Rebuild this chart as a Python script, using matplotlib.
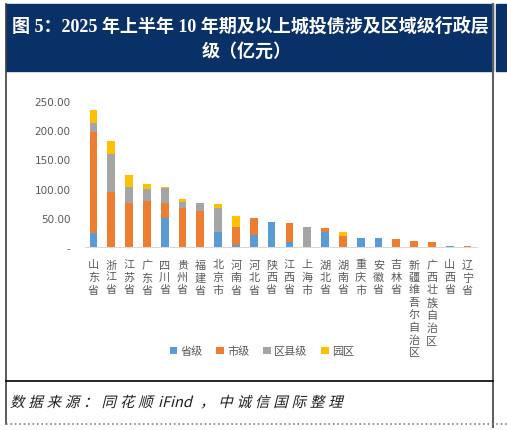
import matplotlib.pyplot as plt
from matplotlib.lines import Line2D
from matplotlib.patches import PathPatch
from matplotlib.textpath import TextPath
from matplotlib.font_manager import FontProperties
from matplotlib.transforms import Affine2D
import numpy as np

plt.rcParams['font.family'] = ['Noto Sans CJK SC', 'DejaVu Sans']

# data (亿元)
provinces = ["山东省", "浙江省", "江苏省", "广东省", "四川省", "贵州省", "福建省", "北京市",
             "河南省", "河北省", "陕西省", "江西省", "上海市", "湖北省", "湖南省", "重庆市",
             "安徽省", "吉林省", "新疆维吾尔自治区", "广西壮族自治区", "山西省", "辽宁省"]
provincial = [24, 0, 0, 0, 49, 0, 0, 26, 4, 20, 43, 9, 0, 25, 0, 15, 15, 0, 0, 0, 1.0, 0]
municipal = [173, 94, 75, 78, 27, 66, 62, 0, 31, 29, 0, 32, 0, 7, 19, 0, 0, 14, 11, 8.5, 0, 1.0]
county = [16, 66, 28, 21, 25, 11, 13, 40, 0, 0, 0, 0, 35, 0, 0, 0, 0, 0, 0, 0, 0, 0]
park = [22, 22, 20, 9, 2, 6, 0, 7, 18, 0, 0, 0, 0, 0, 6, 0, 0, 0, 0, 0, 0, 0]
series_names = ["省级", "市级", "区县级", "园区"]
colors = ["#5B9BD5", "#ED7D31", "#A5A5A5", "#FFC000"]
yticks = [0, 50, 100, 150, 200, 250]
ytick_labels = ["-", "50.00", "100.00", "150.00", "200.00", "250.00"]

W, H = 507, 431
fig = plt.figure(figsize=(W / 100, H / 100), dpi=100)


def fx(px):
    return px / W


def fy(py):
    return 1 - py / H


# header band
fig.patches.append(plt.Rectangle((fx(6), fy(72)), fx(487), 67 / H, transform=fig.transFigure,
                                 color="#0a3068", zorder=0))
fig.patches.append(plt.Rectangle((fx(496), fy(72)), fx(11), 67 / H, transform=fig.transFigure,
                                 color="#0a3068", zorder=0))
fig.text(fx(250), fy(27), "图 5：2025 年上半年 10 年期及以上城投债涉及区域级行政层",
         family=['Liberation Serif', 'Noto Sans CJK SC'], weight='bold', color='white',
         fontsize=13, ha='center', va='center')
fig.text(fx(247), fy(52), "级（亿元）", family=['Liberation Serif', 'Noto Sans CJK SC'],
         weight='bold', color='white', fontsize=13, ha='center', va='center')

# frame lines
fig.add_artist(Line2D([fx(6), fx(6)], [fy(5), fy(425)], color='#404040', lw=1.2))
fig.add_artist(Line2D([fx(493), fx(493)], [fy(5), fy(428)], color='#606060', lw=1.5))
fig.add_artist(Line2D([fx(6), fx(493)], [fy(382), fy(382)], color='black', lw=1.2))
fig.add_artist(Line2D([fx(6), fx(507)], [fy(425), fy(425)], color='#808080', lw=1.2, ls=':'))

# source note, slanted and letter-spaced by hand (no italic CJK face installed)
src_font = FontProperties(family='Noto Sans CJK SC', weight='light')
src_parts = [("数据来源：同花顺", 10), ("iFind", 158), ("，中诚信国际整理", 200)]
for text, x0 in src_parts:
    pieces = [text] if text.isascii() else list(text)
    for i, ch in enumerate(pieces):
        p = TextPath((0, 0), ch, size=14.5, prop=src_font)
        tr = Affine2D().skew_deg(14, 0).translate(x0 + 18.3 * i, H - 408)
        fig.patches.append(PathPatch(p, transform=tr, color='#202020', lw=0))

# chart
ax = fig.add_axes([fx(84.5), fy(248), 392 / W, 146 / H])
x = np.arange(len(provinces))
bottom = np.zeros(len(provinces))
for name, vals, c in zip(series_names, [provincial, municipal, county, park], colors):
    ax.bar(x, vals, width=0.43, bottom=bottom, color=c, label=name)
    bottom += np.array(vals)

ax.set_xlim(-0.5, len(provinces) - 0.5)
ax.set_ylim(0, 250)
ax.set_yticks(yticks)
ax.set_yticklabels(ytick_labels, family='DejaVu Sans', fontsize=7.5, color='#595959')
ax.set_xticks(x)
ax.set_xticklabels(["\n".join(p) for p in provinces], fontsize=8, color='#595959',
                   va='top', linespacing=1.28)
ax.tick_params(axis='both', length=0)
ax.tick_params(axis='y', pad=10)
ax.tick_params(axis='x', pad=9)
for s in ['top', 'right', 'left']:
    ax.spines[s].set_visible(False)
ax.spines['bottom'].set_color('#D9D9D9')
ax.set_facecolor('none')

fig.legend(loc='center', bbox_to_anchor=(fx(262), fy(352)), ncol=4, frameon=False,
           fontsize=8, handlelength=0.7, handleheight=0.7, handletextpad=0.3,
           columnspacing=1.2, labelcolor='#595959')

fig.savefig("out.png", dpi=100)
